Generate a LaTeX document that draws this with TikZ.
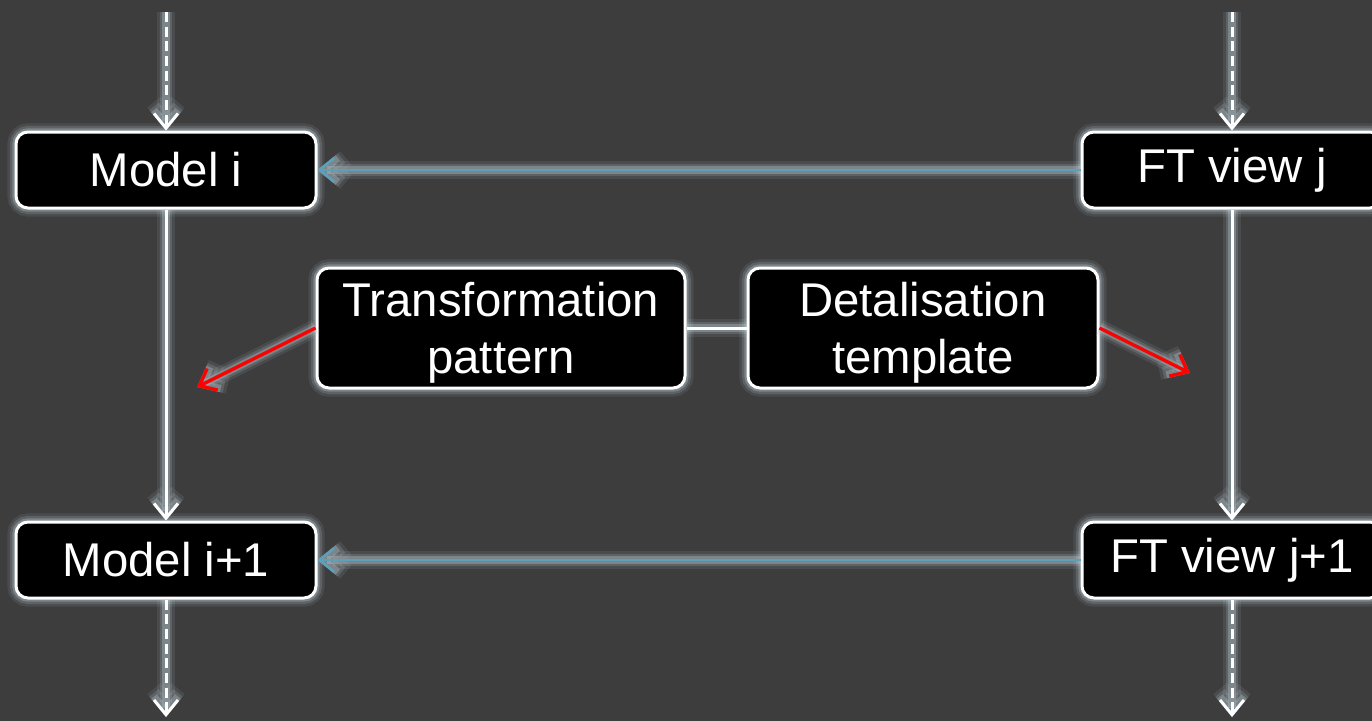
\documentclass[tikz,border=0pt]{standalone}
\usepackage{fontspec}
\setmainfont{Liberation Sans}
\usetikzlibrary{arrows.meta}

\definecolor{bg}{RGB}{61,61,61}
\definecolor{halo}{RGB}{190,208,216}
\definecolor{link}{RGB}{95,160,185}
\definecolor{hint}{RGB}{255,0,0}

\tikzset{
  x=0.75pt, y=-0.75pt,
  % soft halo drawn under lines and boxes
  halo line/.style={
    preaction={draw=halo, solid, line width=13pt, opacity=0.10},
    preaction={draw=halo, solid, line width=9pt, opacity=0.18},
    preaction={draw=halo, solid, line width=5.5pt, opacity=0.32}},
  halo box/.style={
    preaction={draw=halo, line width=13pt, opacity=0.10},
    preaction={draw=halo, line width=9pt, opacity=0.18},
    preaction={draw=halo, line width=5.5pt, opacity=0.32}},
  box/.style={rectangle, rounded corners=9pt, fill=black, draw=white,
    line width=2.25pt, text=white, align=center, inner sep=0pt,
    font=\fontsize{35.5}{42.3}\selectfont, halo box},
  small box/.style={box, minimum width=225pt, minimum height=57pt},
  % two-line boxes: depth/height tuned so both lines sit centred
  big box/.style={box, minimum height=90pt, text height=71pt, text depth=3.5pt},
  tip/.style={-{Straight Barb[length=11pt, width=18pt]}},
  flow/.style={draw=white, line width=2.25pt, tip, halo line},
  flow dashed/.style={flow, dash pattern=on 7.5pt off 3.5pt},
  trace/.style={draw=link, line width=2pt, tip, halo line},
  joint/.style={draw=white, line width=2.25pt, halo line},
  hint arrow/.style={draw=hint, line width=2.5pt, tip, halo line}
}

\begin{document}
\begin{tikzpicture}
  \clip (0,0) rectangle (1372,721);
  \fill[bg] (0,0) rectangle (1372,721);

  % model chain (left) and fault-tree views (right)
  \node[small box] (mi)  at (166,170) {Model i};
  \node[small box] (mi1) at (166,560) {Model i+1};
  \node[small box] (fj)  at (1232,170) {FT view j};
  \node[small box] (fj1) at (1232,560) {FT view j+1};

  % pattern / template pair
  \node[big box, minimum width=276pt] (tp) at (501,328) {Transformation\\pattern};
  \node[big box, minimum width=262.5pt] (dt) at (923,328) {Detalisation\\template};

  % loose ends of the chains
  \coordinate (mtop) at (166,12);
  \coordinate (mbot) at (166,717);
  \coordinate (ftop) at (1232,12);
  \coordinate (fbot) at (1232,717);
  \coordinate (tpend) at (197,387);
  \coordinate (dtend) at (1190,373);

  % vertical flows
  \draw[flow dashed] (mtop) -- (mi.north);
  \draw[flow] (mi.south) -- (mi1.north);
  \draw[flow dashed] (mi1.south) -- (mbot);
  \draw[flow dashed] (ftop) -- (fj.north);
  \draw[flow] (fj.south) -- (fj1.north);
  \draw[flow dashed] (fj1.south) -- (fbot);

  % traces from views back to models
  \draw[trace] (fj.west) -- (mi.east);
  \draw[trace] (fj1.west) -- (mi1.east);

  % link between pattern and template
  \draw[joint] (tp.east) -- (dt.west);

  % hints
  \draw[hint arrow] (tp.west) -- (tpend);
  \draw[hint arrow] (dt.east) -- (dtend);
\end{tikzpicture}
\end{document}
